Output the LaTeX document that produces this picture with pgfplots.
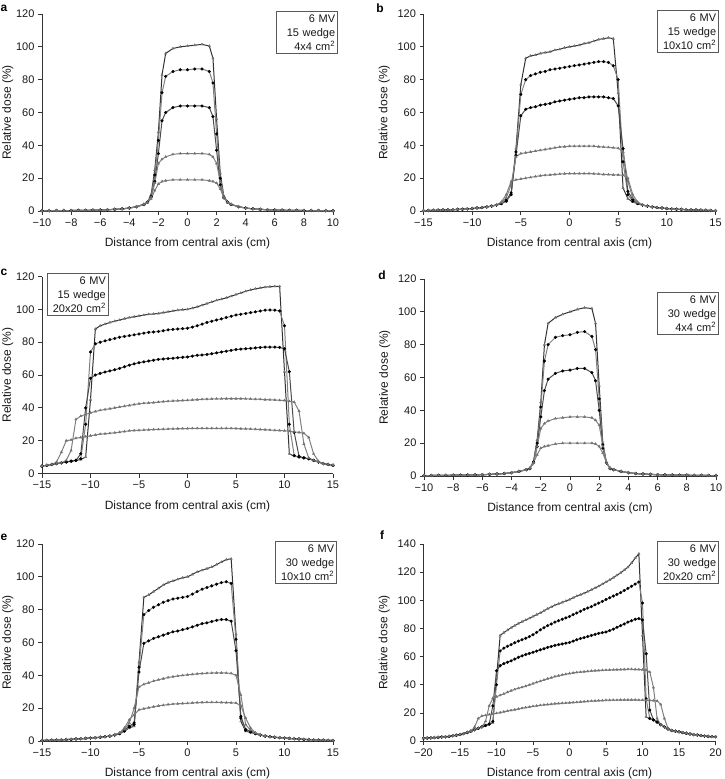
\documentclass[border=0pt]{standalone}
\usepackage{fontspec}
\setmainfont{Liberation Sans}
\usepackage{pgfplots}
\usepackage{pgfplotstable}
\pgfplotsset{compat=1.18}

% Off-axis dose profiles at five depths (c1 shallowest ... c5 deepest)
% a: 15 wedge, 4x4 cm2
\pgfplotstableread{
x c1 c2 c3 c4 c5
-10 0.2 0.2 0.2 0.2 0.2
-9.5 0.2 0.2 0.2 0.2 0.2
-9 0.3 0.3 0.3 0.3 0.2
-8.5 0.3 0.3 0.3 0.3 0.3
-8 0.3 0.3 0.3 0.3 0.3
-7.5 0.4 0.4 0.4 0.4 0.3
-7 0.4 0.4 0.4 0.4 0.4
-6.5 0.5 0.5 0.5 0.5 0.4
-6 0.6 0.6 0.6 0.6 0.5
-5.5 0.8 0.8 0.8 0.8 0.7
-5 1.0 1.0 1.0 1.0 0.9
-4.5 1.3 1.3 1.3 1.3 1.2
-4 1.8 1.8 1.8 1.8 1.7
-3.5 2.6 2.6 2.6 2.7 2.6
-3 4.0 4.0 4.0 4.2 4.0
-2.75 5.5 5.5 5.5 5.5 5.0
-2.5 10 9 8.5 8.5 7.5
-2.25 25 22 18 17 12.5
-2 48 43 35 29 16.5
-1.75 83 72 55 31.5 18
-1.5 96 82 60 33 18.5
-1 99 85 63 34.5 19
-0.5 100 86 64 35 19
0 100.5 86 64 35 19
0.5 101 86.5 64 35 19
1 101.5 86.5 64 35 19
1.5 100.5 85 63 34.5 18.5
1.75 93 78 57.5 33 18
2 56 47 37 29 17
2.25 23 20 16 18 13.5
2.5 9 8.5 8 8.5 8
2.75 5.5 5.5 5.5 5.5 5
3 4.0 4.0 4.0 4.2 4.0
3.5 2.6 2.6 2.6 2.7 2.6
4 1.8 1.8 1.8 1.8 1.7
4.5 1.3 1.3 1.3 1.3 1.2
5 1.0 1.0 1.0 1.0 0.9
5.5 0.8 0.8 0.8 0.8 0.7
6 0.6 0.6 0.6 0.6 0.5
6.5 0.5 0.5 0.5 0.5 0.4
7 0.4 0.4 0.4 0.4 0.4
7.5 0.4 0.4 0.4 0.4 0.3
8 0.3 0.3 0.3 0.3 0.3
8.5 0.3 0.3 0.3 0.3 0.3
9 0.3 0.3 0.3 0.3 0.2
9.5 0.2 0.2 0.2 0.2 0.2
10 0.2 0.2 0.2 0.2 0.2
}\tabA

% b: 15 wedge, 10x10 cm2
\pgfplotstableread{
x c1 c2 c3 c4 c5
-15 0.2 0.2 0.2 0.2 0.2
-14.5 0.3 0.3 0.3 0.3 0.3
-14 0.4 0.4 0.4 0.4 0.4
-13.5 0.5 0.5 0.5 0.5 0.5
-13 0.6 0.6 0.6 0.6 0.6
-12.5 0.7 0.7 0.7 0.7 0.7
-12 0.8 0.8 0.8 0.8 0.8
-11.5 1.0 1.0 1.0 1.0 1.0
-11 1.1 1.1 1.1 1.1 1.1
-10.5 1.3 1.3 1.3 1.3 1.3
-10 1.5 1.5 1.5 1.5 1.5
-9.5 1.8 1.8 1.8 1.8 1.8
-9 2.1 2.1 2.1 2.1 2.1
-8.5 2.5 2.5 2.5 2.5 2.5
-8 3.0 3.0 3.0 3.0 3.0
-7.5 3.6 3.6 3.6 3.7 3.8
-7 4.5 4.5 4.5 5 5.5
-6.5 6 6 6.5 8 10
-6 10 10 11 16 18
-5.5 38 36 34 33 19
-5 77 71 58 35 19.5
-4.5 93 80 62 35.5 20
-4 94.5 82.5 63 36 20.5
-3.5 95 83.5 63.5 36.5 21
-3 96 84.5 64.5 37 21.5
-2.5 96.5 85 65 37.5 21.8
-2 97 86 65.5 38 22
-1.5 98 86.5 66.5 38.5 22.3
-1 98.5 87 67 39 22.5
-0.5 99.5 87.5 67.5 39.2 22.7
0 100 88 68 39.5 22.8
0.5 100.5 88.5 68.5 39.5 22.8
1 101 89 69 39.5 22.8
1.5 102 89.5 69 39.5 22.8
2 102.5 90 69.5 39.5 22.8
2.5 103.5 90.5 69.5 39.5 22.7
3 104.5 91 69.5 39.2 22.5
3.5 105 91 69.5 39 22.3
4 105.5 90.5 69 38.8 22.2
4.5 105 88.5 68.5 38.5 22
5 72 80 64 38.2 22
5.5 14 30 38 36 21.8
6 7.5 10 12 18 20
6.5 5.5 6 7 8 10
7 4.5 4.5 4.5 5 5.5
7.5 3.6 3.6 3.6 3.7 3.8
8 3.0 3.0 3.0 3.0 3.0
8.5 2.5 2.5 2.5 2.5 2.5
9 2.1 2.1 2.1 2.1 2.1
9.5 1.8 1.8 1.8 1.8 1.8
10 1.5 1.5 1.5 1.5 1.5
10.5 1.3 1.3 1.3 1.3 1.3
11 1.1 1.1 1.1 1.1 1.1
11.5 1.0 1.0 1.0 1.0 1.0
12 0.8 0.8 0.8 0.8 0.8
12.5 0.7 0.7 0.7 0.7 0.7
13 0.6 0.6 0.6 0.6 0.6
13.5 0.5 0.5 0.5 0.5 0.5
14 0.4 0.4 0.4 0.4 0.4
14.5 0.3 0.3 0.3 0.3 0.3
15 0.2 0.2 0.2 0.2 0.2
}\tabB

% c: 15 wedge, 20x20 cm2
\pgfplotstableread{
x c1 c2 c3 c4 c5
-15 4.5 4.5 4.5 4.5 4.5
-14.5 5 5 5 5 5
-14 5.5 5.5 5.5 5.5 5.5
-13.5 6 6 6 6 7
-13 6.5 6.5 6.5 6.5 13
-12.5 7 7 7 8 20
-12 7.5 7.5 7.5 14 20.5
-11.5 8 8 8 33 21.5
-11 8.5 9 12 35 22
-10.5 10 30 40 36 22.5
-10 45 74 58 37 23
-9.5 88 79 60 37.8 23.5
-9 90 80 61 38.5 24
-8.5 91 80.8 61.8 39 24.2
-8 92 81.5 62.5 39.5 24.5
-7.5 92.8 82.3 63.2 40 24.8
-7 93.5 83 64 40.5 25.2
-6.5 94.3 83.5 65 41 25.6
-6 95 84 66 41.5 26
-5.5 95.5 84.5 66.8 42 26.2
-5 96 85 67.5 42.5 26.3
-4.5 96.5 85.5 68 42.8 26.5
-4 97 86 68.5 43 26.6
-3.5 97.2 86.2 69 43.2 26.8
-3 97.5 86.5 69.5 43.5 26.9
-2.5 98 87 69.8 43.8 27
-2 98.5 87.5 70 44 27.1
-1.5 99 87.8 70.2 44.2 27.2
-1 99.5 88 70.5 44.3 27.3
-0.5 99.8 88.2 70.8 44.5 27.4
0 100 88.5 71 44.6 27.4
0.5 100.7 89.2 71.5 44.8 27.5
1 101.5 90 72 45 27.5
1.5 102.5 91 72.2 45.2 27.5
2 103.5 92 72.5 45.3 27.5
2.5 104.5 92.8 73 45.4 27.5
3 105.5 93.5 73.5 45.5 27.5
3.5 106.2 94.2 74 45.5 27.5
4 107 95 74.5 45.6 27.5
4.5 108 95.8 75 45.6 27.5
5 109 96.5 75.5 45.6 27.4
5.5 110 97 75.8 45.6 27.3
6 111 97.5 76 45.5 27.2
6.5 111.8 98 76.2 45.4 27.1
7 112.5 98.5 76.5 45.3 27
7.5 113 99 76.8 45.2 26.8
8 113.5 99.5 77 45 26.7
8.5 113.8 99.6 77 44.9 26.5
9 114 99.5 77 44.8 26.3
9.5 114 99 76.8 44.6 26.2
10 62 90 76 44.5 26
10.5 12 30 62 44 25.8
11 10.5 11 25 43.5 25.4
11.5 10 10 10.5 38 25
12 9.5 9.5 9.5 18 24.5
12.5 9 9 9 9.5 22
13 8 8 8 8 12
13.5 7 7 7 7 7.5
14 6 6 6 6 6
14.5 5.5 5.5 5.5 5.5 5.5
15 5 5 5 5 5
}\tabC

% d: 30 wedge, 4x4 cm2
\pgfplotstableread{
x c1 c2 c3 c4 c5
-10 0.3 0.3 0.3 0.3 0.3
-9.5 0.3 0.3 0.3 0.3 0.3
-9 0.4 0.4 0.4 0.4 0.4
-8.5 0.4 0.4 0.4 0.4 0.4
-8 0.5 0.5 0.5 0.5 0.5
-7.5 0.5 0.5 0.5 0.5 0.5
-7 0.6 0.6 0.6 0.6 0.6
-6.5 0.7 0.7 0.7 0.7 0.7
-6 0.8 0.8 0.8 0.8 0.8
-5.5 1.0 1.0 1.0 1.0 1.0
-5 1.2 1.2 1.2 1.2 1.2
-4.5 1.5 1.5 1.5 1.5 1.5
-4 2.0 2.0 2.0 2.0 2.0
-3.5 2.8 2.8 2.8 2.8 2.8
-3 3.8 3.8 3.8 3.8 3.8
-2.75 4.5 4.5 4.5 4.5 5
-2.5 9 8.5 8 8 8
-2.25 22 20 18 18 13
-2 45 42 36 29 17
-1.75 80 70 52 32 18
-1.5 93 80 59 33.5 18.5
-1 96.5 84.5 62.5 35 19.5
-0.5 98.5 85.5 64 35.5 20
0 100 86 64.5 36 20
0.5 101.5 87.5 65.5 36 20
1 102.5 88 65.5 36 20
1.5 102 85 63 35.5 20
1.75 93 77 58 34 19.5
2 55 47 40 31 18
2.25 20 19 17 18 14
2.5 8 8 8 8 8
2.75 4.5 4.5 4.5 4.5 5
3 3.8 3.8 3.8 3.8 3.8
3.5 2.8 2.8 2.8 2.8 2.8
4 2.0 2.0 2.0 2.0 2.0
4.5 1.5 1.5 1.5 1.5 1.5
5 1.2 1.2 1.2 1.2 1.2
5.5 1.0 1.0 1.0 1.0 1.0
6 0.8 0.8 0.8 0.8 0.8
6.5 0.7 0.7 0.7 0.7 0.7
7 0.6 0.6 0.6 0.6 0.6
7.5 0.5 0.5 0.5 0.5 0.5
8 0.5 0.5 0.5 0.5 0.5
8.5 0.4 0.4 0.4 0.4 0.4
9 0.4 0.4 0.4 0.4 0.4
9.5 0.3 0.3 0.3 0.3 0.3
10 0.3 0.3 0.3 0.3 0.3
}\tabD

% e: 30 wedge, 10x10 cm2
\pgfplotstableread{
x c1 c2 c3 c4 c5
-15 0.3 0.3 0.3 0.3 0.3
-14.5 0.4 0.4 0.4 0.4 0.4
-14 0.5 0.5 0.5 0.5 0.5
-13.5 0.6 0.6 0.6 0.6 0.6
-13 0.7 0.7 0.7 0.7 0.7
-12.5 0.85 0.85 0.85 0.85 0.85
-12 1.0 1.0 1.0 1.0 1.0
-11.5 1.2 1.2 1.2 1.2 1.2
-11 1.4 1.4 1.4 1.4 1.4
-10.5 1.6 1.6 1.6 1.6 1.6
-10 1.8 1.8 1.8 1.8 1.8
-9.5 2.0 2.0 2.0 2.0 2.0
-9 2.3 2.3 2.3 2.3 2.3
-8.5 2.6 2.6 2.6 2.6 2.6
-8 3.0 3.0 3.0 3.0 3.0
-7.5 3.6 3.6 3.6 3.8 4
-7 4.5 4.5 4.5 4.8 5
-6.5 6 6 6.5 7 8
-6 8 8.5 9 11 13
-5.5 9 10 11 20 16
-5 48 45 42 33 19
-4.5 87.5 77 59.5 34.5 19.7
-4 89 79.5 61 35.5 20.3
-3.5 91 81.5 62.5 36.5 20.9
-3 93 83 63.5 37.3 21.4
-2.5 95 84.5 64.5 38 21.8
-2 96.5 85.5 65.5 38.7 22.2
-1.5 97.5 86.5 66.5 39.2 22.5
-1 98.5 87 67 39.6 22.7
-0.5 99.5 87.5 67.8 40 22.9
0 100 88 68.5 40.3 23
0.5 101.5 89.5 69.5 40.6 23.2
1 103 91 70.5 40.9 23.4
1.5 104 92.5 71.5 41.1 23.5
2 105 93.5 72 41.3 23.6
2.5 106 94.5 72.8 41.4 23.6
3 107.5 95.5 73.5 41.5 23.6
3.5 109 96.5 74 41.5 23.5
4 110.5 97 74 41.4 23.4
4.5 111 96 73 41.2 23.3
5 65 62 55 40 23.1
5.5 12 14 15 28 21.5
6 6 6.5 7 10 14
6.5 5.2 5.5 6 6.5 8
7 4.5 4.5 4.5 4.8 5
7.5 3.6 3.6 3.6 3.8 4
8 3.0 3.0 3.0 3.0 3.0
8.5 2.6 2.6 2.6 2.6 2.6
9 2.3 2.3 2.3 2.3 2.3
9.5 2.0 2.0 2.0 2.0 2.0
10 1.8 1.8 1.8 1.8 1.8
10.5 1.6 1.6 1.6 1.6 1.6
11 1.4 1.4 1.4 1.4 1.4
11.5 1.2 1.2 1.2 1.2 1.2
12 1.0 1.0 1.0 1.0 1.0
12.5 0.85 0.85 0.85 0.85 0.85
13 0.7 0.7 0.7 0.7 0.7
13.5 0.6 0.6 0.6 0.6 0.6
14 0.5 0.5 0.5 0.5 0.5
14.5 0.4 0.4 0.4 0.4 0.4
15 0.3 0.3 0.3 0.3 0.3
}\tabE

% f: 30 wedge, 20x20 cm2
\pgfplotstableread{
x c1 c2 c3 c4 c5
-20 2 2 2 2 2
-19.5 2.1 2.1 2.1 2.1 2.1
-19 2.2 2.2 2.2 2.2 2.2
-18.5 2.4 2.4 2.4 2.4 2.4
-18 2.6 2.6 2.6 2.6 2.6
-17.5 2.8 2.8 2.8 2.8 2.8
-17 3 3 3 3 3
-16.5 3.3 3.3 3.3 3.3 3.3
-16 3.7 3.7 3.7 3.7 3.7
-15.5 4.1 4.1 4.1 4.1 4.1
-15 4.6 4.6 4.6 4.6 4.6
-14.5 5.2 5.2 5.2 5.2 5.2
-14 6 6 6 6 6.3
-13.5 7 7 7 7 7
-13 8 8 8 8 10
-12.5 9 9 9 9 16
-12 10 10 10 10 17.8
-11.5 11 11 11 14 18.3
-11 12 12 12 25 18.8
-10.5 13 14 25 30.5 19.3
-10 45 40 50 31.5 19.7
-9.5 75 64 53.5 32.5 20.2
-9 77 66 55 33.5 20.8
-8.5 78.8 67.3 56 34.7 21.3
-8 80.5 68.5 57 35.8 21.8
-7.5 82 69.8 58.2 36.7 22.3
-7 83.5 71 59.5 37.5 22.8
-6.5 84.8 72 60.5 38.2 23.3
-6 86 73 61.5 39 23.8
-5.5 87.2 74.2 62.2 39.9 24.2
-5 88.5 75.5 63 40.8 24.7
-4.5 89.8 77.2 63.9 41.7 25
-4 91 79 64.8 42.5 25.4
-3.5 92.5 80.5 65.6 43.4 25.7
-3 94 82 66.5 44.3 26
-2.5 95.2 83.2 67.2 45 26.2
-2 96.5 84.5 68 45.8 26.5
-1.5 97.5 85.5 68.5 46.4 26.7
-1 98.5 86.5 69 47 26.9
-0.5 99.5 87.5 69.5 47.5 27
0 100.5 88.5 70 48 27.2
0.5 101.8 89.8 71 48.4 27.4
1 103 91 72 48.8 27.6
1.5 104 92.2 72.8 49 27.8
2 105 93.5 73.5 49.3 28
2.5 106.2 94.5 74.2 49.5 28.2
3 107.5 95.5 75 49.8 28.4
3.5 108.8 96.8 75.8 50 28.5
4 110 98 76.5 50.1 28.7
4.5 111.5 99.2 77 50.3 28.8
5 113 100.5 77.5 50.4 29
5.5 114.5 101.8 78.5 50.5 29
6 116 103 79.5 50.6 29.1
6.5 117.8 104.2 80.8 50.7 29.1
7 119.5 105.5 82 50.8 29.2
7.5 121.5 107 83.2 50.9 29.2
8 123.5 108.5 84.5 51 29.2
8.5 126.5 110 85.5 51 29.2
9 130 111.5 86.5 50.9 29.2
9.5 133 113 87 50.8 29.1
10 75 98 86 50.6 29.1
10.5 17 30 62 50.3 29
11 16 16 22 49 28.9
11.5 15 15 15 38 28.7
12 13.5 13.5 13.5 16 28.5
12.5 11.5 11.5 11.5 11.5 26
13 10 10 10 10 16
13.5 8.5 8.5 8.5 8.5 9
14 7.5 7.5 7.5 7.5 7.5
14.5 7 7 7 7 7
15 6.5 6.5 6.5 6.5 6.5
15.5 6 6 6 6 6
16 5.5 5.5 5.5 5.5 5.5
16.5 5 5 5 5 5
17 4.5 4.5 4.5 4.5 4.5
17.5 4.2 4.2 4.2 4.2 4.2
18 3.9 3.9 3.9 3.9 3.9
18.5 3.6 3.6 3.6 3.6 3.6
19 3.3 3.3 3.3 3.3 3.3
19.5 3.1 3.1 3.1 3.1 3.1
20 3 3 3 3 3
}\tabF

\newcommand\labelfont{\fontsize{12}{14}\selectfont}
\newcommand\tickfont{\fontsize{11}{12}\selectfont}

\pgfplotsset{
  profile/.style={
    scale only axis, height=197pt,
    axis x line=bottom, axis y line=left,
    axis line style={-, black!80, line width=0.8pt},
    tick align=outside, major tick length=4pt,
    tick style={black!80, line width=0.7pt},
    minor tick num=0,
    ymin=0, enlargelimits=false, clip=false,
    xticklabel style={font=\tickfont, text=black!90},
    yticklabel style={font=\tickfont, text=black!90},
    /pgf/number format/assume math mode=true,
    xlabel={Distance from central axis (cm)},
    ylabel={Relative dose (\%)},
    every axis x label/.style={at={(axis description cs:0.5,-0.165)},
      anchor=center, font=\labelfont, text=black!90},
    every axis y label/.style={at={(axis description cs:#1,0.5)},
      rotate=90, anchor=center, font=\labelfont, text=black!90},
  },
  profile/.default={-0.134},
  calc/.style={no marks, line width=1pt},
  meas/.style={only marks, mark size=1.35pt},
}

% calculated profiles as lines, measured points as marks
\newcommand\profiles[1]{%
  \addplot[calc, black!80] table[x=x, y=c1] {#1};
  \addplot[calc, black!50] table[x=x, y=c2] {#1};
  \addplot[calc, black!70] table[x=x, y=c3] {#1};
  \addplot[calc, black!50] table[x=x, y=c4] {#1};
  \addplot[calc, black!50] table[x=x, y=c5] {#1};
  \addplot[meas, mark=triangle*, black!55] table[x=x, y=c1] {#1};
  \addplot[meas, mark=*, black] table[x=x, y=c2] {#1};
  \addplot[meas, mark=*, black] table[x=x, y=c3] {#1};
  \addplot[meas, mark=triangle*, black!55] table[x=x, y=c4] {#1};
  \addplot[meas, mark=triangle*, black!55] table[x=x, y=c5] {#1};
}

\tikzset{
  infobox/.style={draw=black!65, line width=0.7pt, fill=white, align=right,
    font=\fontsize{11}{14.3}\selectfont, text=black!90,
    inner xsep=2.5pt, inner ysep=3pt, text width=56pt},
  panel/.style={font=\bfseries\fontsize{12}{14}\selectfont}
}

\begin{document}
\begin{tikzpicture}
\useasboundingbox (0,0) rectangle (725pt,-779pt);

\begin{axis}[profile={-0.118}, at={(42pt,-211pt)}, anchor=south west, width=291pt,
  xmin=-10, xmax=10, ymax=120, xtick={-10,-8,...,10},
  xticklabels={−10,−8,−6,−4,−2,0,2,4,6,8,10}, ytick={0,20,...,120}]
\profiles{\tabA}
\end{axis}

\begin{axis}[profile, at={(423.5pt,-211pt)}, anchor=south west, width=292pt,
  xmin=-15, xmax=15, ymax=120, xtick={-15,-10,...,15},
  xticklabels={−15,−10,−5,0,5,10,15}, ytick={0,20,...,120}]
\profiles{\tabB}
\end{axis}

\begin{axis}[profile={-0.118}, at={(42pt,-473.5pt)}, anchor=south west, width=291pt,
  xmin=-15, xmax=15, ymax=120, xtick={-15,-10,...,15},
  xticklabels={−15,−10,−5,0,5,10,15}, ytick={0,20,...,120}]
\profiles{\tabC}
\end{axis}

\begin{axis}[profile, at={(424pt,-476pt)}, anchor=south west, width=292pt,
  xmin=-10, xmax=10, ymax=120, xtick={-10,-8,...,10},
  xticklabels={−10,−8,−6,−4,−2,0,2,4,6,8,10}, ytick={0,20,...,120}]
\profiles{\tabD}
\end{axis}

\begin{axis}[profile={-0.118}, at={(42pt,-741pt)}, anchor=south west, width=291pt,
  xmin=-15, xmax=15, ymax=120, xtick={-15,-10,...,15},
  xticklabels={−15,−10,−5,0,5,10,15}, ytick={0,20,...,120}]
\profiles{\tabE}
\end{axis}

\begin{axis}[profile, at={(423.5pt,-741pt)}, anchor=south west, width=292pt,
  xmin=-20, xmax=20, ymax=140, xtick={-20,-15,...,20},
  xticklabels={−20,−15,−10,−5,0,5,10,15,20}, ytick={0,20,...,140}]
\profiles{\tabF}
\end{axis}

% beam descriptions
\node[infobox, anchor=north east] at (338pt,-11pt) {6 MV\\15 wedge\\4x4 cm\textsuperscript{2}};
\node[infobox, anchor=north east] at (719pt,-10pt) {6 MV\\15 wedge\\10x10 cm\textsuperscript{2}};
\node[infobox, anchor=north west] at (47pt,-273pt) {6 MV\\15 wedge\\20x20 cm\textsuperscript{2}};
\node[infobox, anchor=north east] at (719pt,-292pt) {6 MV\\30 wedge\\4x4 cm\textsuperscript{2}};
\node[infobox, anchor=north east] at (337pt,-541pt) {6 MV\\30 wedge\\10x10 cm\textsuperscript{2}};
\node[infobox, anchor=north east] at (719pt,-541pt) {6 MV\\30 wedge\\20x20 cm\textsuperscript{2}};

% panel letters
\node[panel] at (4pt,-8pt) {a};
\node[panel] at (380pt,-8pt) {b};
\node[panel] at (4pt,-272pt) {c};
\node[panel] at (382pt,-275pt) {d};
\node[panel] at (4pt,-537pt) {e};
\node[panel] at (382pt,-535pt) {f};
\end{tikzpicture}
\end{document}
